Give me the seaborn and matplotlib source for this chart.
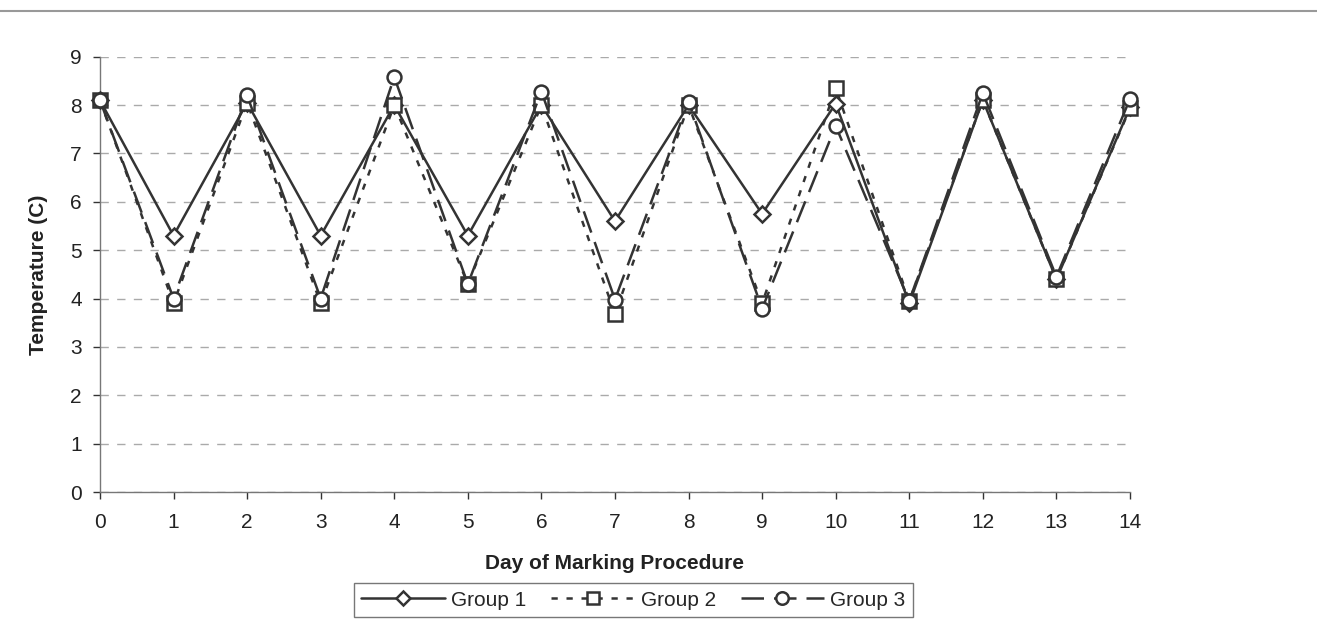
import matplotlib
matplotlib.use("Agg")
import matplotlib.pyplot as plt
import seaborn as sns
import pandas as pd
from matplotlib.lines import Line2D

days = list(range(15))
group1 = [8.1, 5.3, 8.05, 5.3, 8.0, 5.3, 8.0, 5.6, 8.0, 5.75, 8.03, 3.9, 8.1, 4.4, 7.95]
group2 = [8.1, 3.9, 8.05, 3.9, 8.0, 4.3, 8.0, 3.68, 8.0, 3.9, 8.35, 3.95, 8.1, 4.4, 7.93]
group3 = [8.1, 4.0, 8.2, 4.0, 8.58, 4.3, 8.28, 3.98, 8.07, 3.79, 7.57, 3.95, 8.25, 4.45, 8.13]
series_names = ["Group 1", "Group 2", "Group 3"]
xlabel = "Day of Marking Procedure"
ylabel = "Temperature (C)"

sns.set_style("white")
plt.rcParams['font.family'] = ['Liberation Sans', 'DejaVu Sans']

fig = plt.figure(figsize=(13.17, 6.37), dpi=100)
ax = fig.add_axes([0.0759, 0.2276, 0.858 - 0.0759, 0.911 - 0.2276])

df = pd.DataFrame({"day": days * 3,
                   "temp": group1 + group2 + group3,
                   "group": sum([[n] * len(days) for n in series_names], [])})

col = "#333333"
styles = {
    "Group 1": dict(linestyle="-", marker="D", ms=8),
    "Group 2": dict(linestyle=(0, (2.5, 3.5)), marker="s", ms=10),
    "Group 3": dict(linestyle=(0, (9, 4)), marker="o", ms=10),
}
for name in series_names:
    sub = df[df.group == name]
    st = styles[name]
    sns.lineplot(data=sub, x="day", y="temp", ax=ax, color=col, lw=1.8,
                 linestyle=st["linestyle"], marker=st["marker"], markersize=st["ms"],
                 markerfacecolor="white", markeredgecolor=col, markeredgewidth=1.8,
                 label=name, legend=False, clip_on=False, zorder=3)

ax.set_xlim(0, 14)
ax.set_ylim(0, 9)
ax.set_xticks(days)
ax.set_yticks(range(10))
ax.tick_params(axis="both", labelsize=15, colors="#333333", length=5, width=1,
               direction="out", bottom=True, left=True, pad=8)
ax.tick_params(axis="x", pad=10)
for t in ax.get_xticklabels() + ax.get_yticklabels():
    t.set_color("#222222")
ax.yaxis.grid(True, linestyle=(0, (6, 6)), color="#aaaaaa", lw=1)
ax.xaxis.grid(False)
for s in ["top", "right"]:
    ax.spines[s].set_visible(False)
for s in ["left", "bottom"]:
    ax.spines[s].set_color("#777777")
    ax.spines[s].set_linewidth(1)
ax.set_xlabel(xlabel, fontsize=15, fontweight="bold", color="#222222", labelpad=16)
ax.set_ylabel(ylabel, fontsize=15, fontweight="bold", color="#222222", labelpad=16)

handles = []
for name in series_names:
    st = styles[name]
    handles.append(Line2D([], [], color=col, lw=1.8, linestyle=st["linestyle"],
                          marker=st["marker"], markersize=st["ms"] - 1,
                          markerfacecolor="white", markeredgecolor=col,
                          markeredgewidth=1.8))
leg = fig.legend(handles, series_names, loc="center", bbox_to_anchor=(0.481, 0.058),
                 ncol=3, fontsize=15, frameon=True, fancybox=False, edgecolor="#555555",
                 handlelength=4, columnspacing=1.2, handletextpad=0.3,
                 borderpad=0.35)
leg.get_frame().set_linewidth(1)

fig.add_artist(Line2D([0.0, 1.0], [0.983, 0.983], transform=fig.transFigure,
                      color="#999999", lw=1.5))

fig.savefig("out.png", dpi=100, facecolor="white")
